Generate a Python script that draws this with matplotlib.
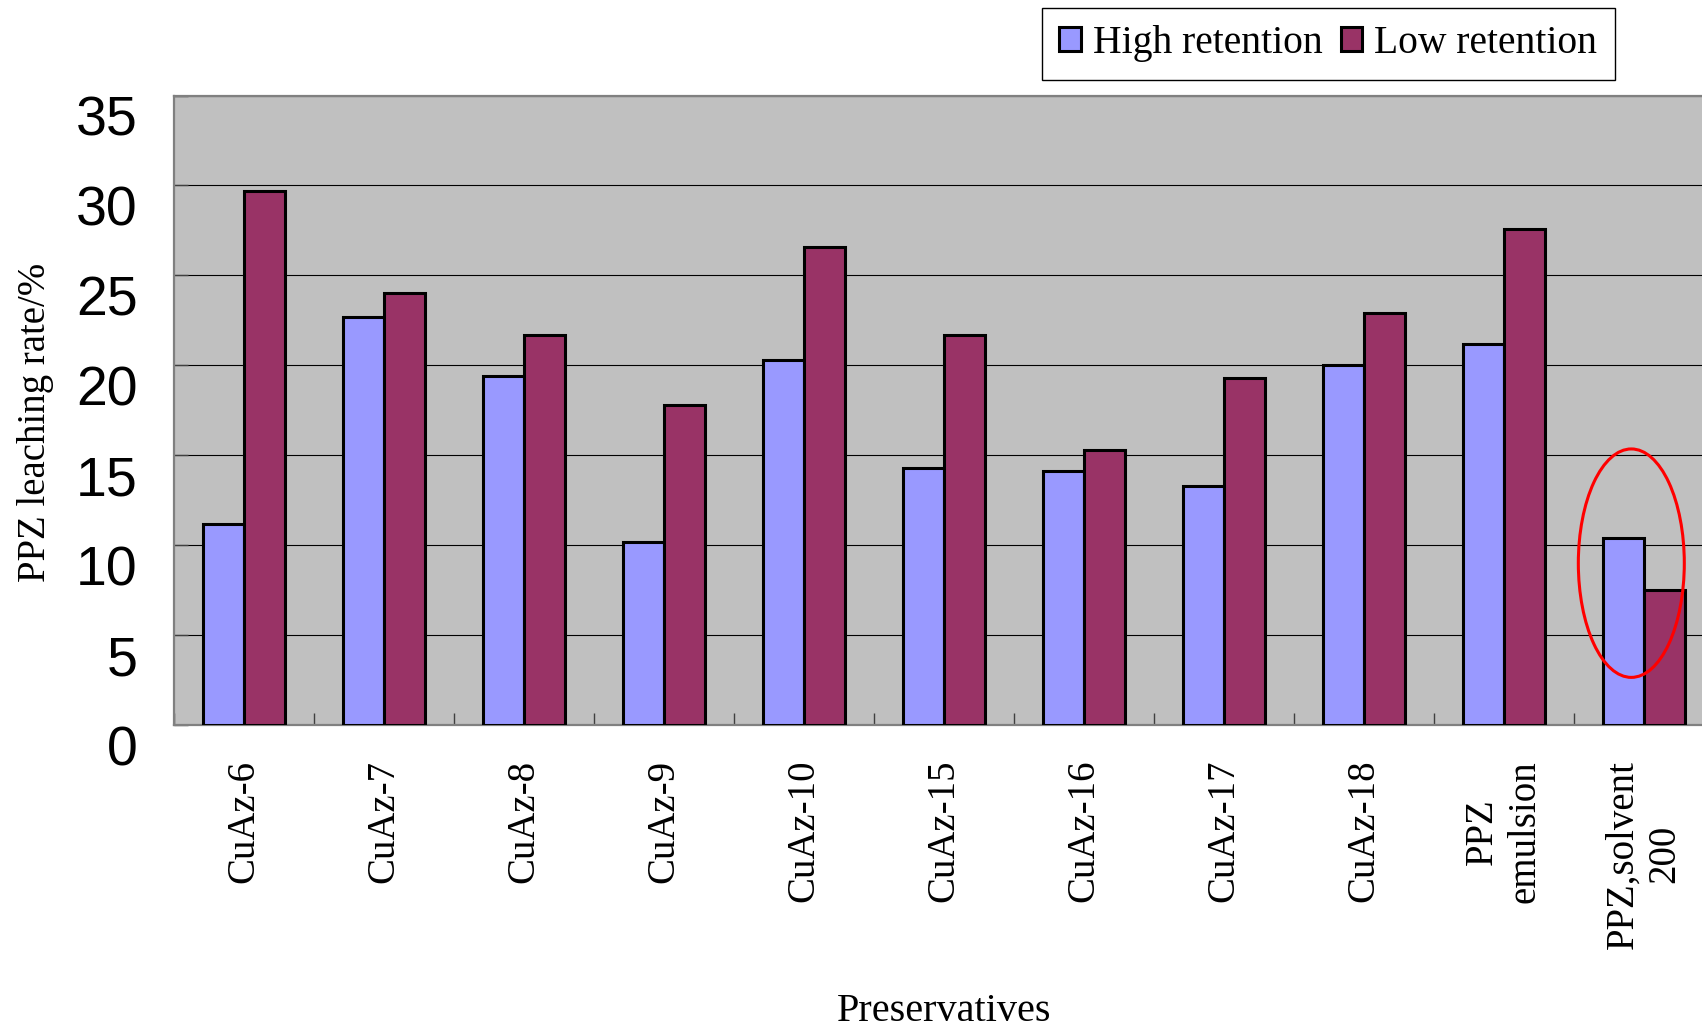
import numpy as np
import matplotlib
matplotlib.use("Agg")
import matplotlib.pyplot as plt
from matplotlib.patches import Ellipse

plt.rcParams['font.family'] = ['Liberation Serif', 'DejaVu Serif']

# PPZ leaching rate (%) for each preservative at two retention levels
preservatives = ['CuAz-6', 'CuAz-7', 'CuAz-8', 'CuAz-9', 'CuAz-10', 'CuAz-15',
                 'CuAz-16', 'CuAz-17', 'CuAz-18', 'PPZ\nemulsion', 'PPZ,solvent\n200']
high_retention = [11.2, 22.7, 19.4, 10.2, 20.3, 14.3, 14.1, 13.3, 20.0, 21.2, 10.4]
low_retention = [29.7, 24.0, 21.7, 17.8, 26.6, 21.7, 15.3, 19.3, 22.9, 27.6, 7.5]
y_ticks = [0, 5, 10, 15, 20, 25, 30, 35]

fig = plt.figure(figsize=(17.02, 10.28), dpi=100)
ax = fig.add_axes([0.1022, 0.2947, 0.9048, 0.6124])
ax.set_facecolor('#C0C0C0')

x = np.arange(len(preservatives))
w = 0.293
ax.bar(x - w / 2, high_retention, w, color='#9999FF', edgecolor='black',
       linewidth=2.2, label='High retention', zorder=3)
ax.bar(x + w / 2, low_retention, w, color='#993366', edgecolor='black',
       linewidth=2.2, label='Low retention', zorder=3)

# highlight the solvent-based formulation
ax.add_patch(Ellipse((x[-1] - 0.09, 9.0), 0.757, 12.7, fill=False,
                     edgecolor='red', linewidth=2.2, zorder=4))

ax.set_xlim(-0.5, len(preservatives) - 0.5)
ax.set_ylim(0, 35)
ax.set_yticks(y_ticks)
ax.yaxis.grid(True, color='black', linewidth=0.8, zorder=1)
ax.set_axisbelow(True)

ax.set_xticks(x)
ax.set_xticklabels(preservatives, rotation=90, fontsize=28,
                   multialignment='center')
ax.set_xticks(np.arange(len(preservatives) + 1) - 0.5, minor=True)
ax.tick_params(axis='x', which='major', length=0, pad=25)
ax.tick_params(axis='x', which='minor', direction='in', length=9,
               width=1, color='#404040')
ax.tick_params(axis='y', direction='in', length=10, width=1,
               color='#404040', pad=26)
for lab in ax.get_yticklabels():
    lab.set_fontfamily('Liberation Sans')
    lab.set_fontsize(40)
    lab.set_va('top')

for side in ['left', 'bottom', 'top', 'right']:
    ax.spines[side].set_color('#808080')
    ax.spines[side].set_linewidth(1.6)

ax.set_ylabel('PPZ leaching rate/%', fontsize=28, va='center')
ax.yaxis.set_label_coords(-0.09, 0.48)
ax.set_xlabel('Preservatives', fontsize=29, va='top')
ax.xaxis.set_label_coords(0.5, -0.425)

fig.legend(loc='upper left', bbox_to_anchor=(0.612, 0.9926), ncol=2,
           fontsize=28.5, frameon=True, fancybox=False, edgecolor='black',
           framealpha=1, borderaxespad=0, borderpad=0.45,
           handlelength=0.55, handleheight=0.55, handletextpad=0.3,
           columnspacing=0.45)
fig.legends[0].get_frame().set_linewidth(1.0)

fig.savefig('out.png', dpi=100)
